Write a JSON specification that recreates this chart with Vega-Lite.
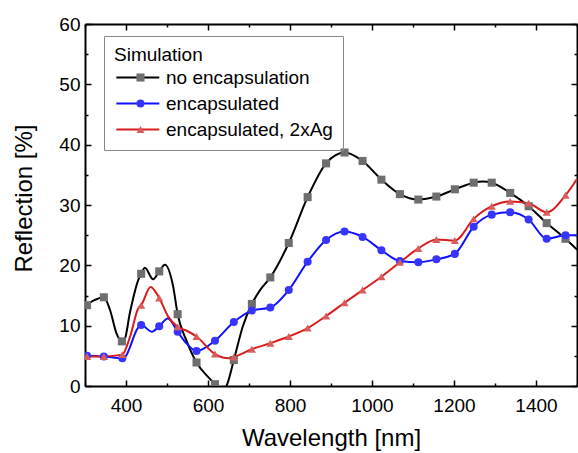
{
  "$schema": "https://vega.github.io/schema/vega-lite/v6.json",
  "width": 492,
  "height": 362,
  "autosize": {"type": "none"},
  "padding": {"left": 85, "top": 24, "right": 1, "bottom": 67},
  "config": {
    "font": "Liberation Sans",
    "view": {"stroke": null},
    "axis": {"grid": false, "domainColor": "black", "domainWidth": 2, "tickColor": "black", "tickWidth": 1.5, "labelColor": "black", "titleColor": "black", "labelFontSize": 19, "titleFontSize": 24, "titleFontWeight": "normal", "labelFlush": false, "labelOverlap": false},
    "legend": {"labelFontSize": 19, "titleFontSize": 19, "titleFontWeight": "normal", "labelColor": "black", "titleColor": "black", "labelLimit": 400}
  },
  "data": {
    "values": [
      {"s": "no encapsulation", "nm": 300, "r": 13.0, "m": 0},
      {"s": "no encapsulation", "nm": 305, "r": 13.4, "m": 1},
      {"s": "no encapsulation", "nm": 325, "r": 14.3, "m": 0},
      {"s": "no encapsulation", "nm": 346, "r": 14.7, "m": 1},
      {"s": "no encapsulation", "nm": 361, "r": 12.6, "m": 0},
      {"s": "no encapsulation", "nm": 377, "r": 8.7, "m": 0},
      {"s": "no encapsulation", "nm": 390, "r": 7.4, "m": 1},
      {"s": "no encapsulation", "nm": 396, "r": 7.6, "m": 0},
      {"s": "no encapsulation", "nm": 410, "r": 12.3, "m": 0},
      {"s": "no encapsulation", "nm": 430, "r": 17.6, "m": 0},
      {"s": "no encapsulation", "nm": 437, "r": 18.6, "m": 1},
      {"s": "no encapsulation", "nm": 446, "r": 19.6, "m": 0},
      {"s": "no encapsulation", "nm": 466, "r": 17.7, "m": 0},
      {"s": "no encapsulation", "nm": 481, "r": 19.0, "m": 1},
      {"s": "no encapsulation", "nm": 495, "r": 20.1, "m": 0},
      {"s": "no encapsulation", "nm": 515, "r": 16.5, "m": 0},
      {"s": "no encapsulation", "nm": 526, "r": 11.9, "m": 1},
      {"s": "no encapsulation", "nm": 547, "r": 7.6, "m": 0},
      {"s": "no encapsulation", "nm": 572, "r": 3.9, "m": 1},
      {"s": "no encapsulation", "nm": 600, "r": 1.5, "m": 0},
      {"s": "no encapsulation", "nm": 617, "r": 0.3, "m": 1},
      {"s": "no encapsulation", "nm": 630, "r": -1.0, "m": 0},
      {"s": "no encapsulation", "nm": 645, "r": 0.0, "m": 0},
      {"s": "no encapsulation", "nm": 663, "r": 4.3, "m": 1},
      {"s": "no encapsulation", "nm": 685, "r": 9.9, "m": 0},
      {"s": "no encapsulation", "nm": 707, "r": 13.6, "m": 1},
      {"s": "no encapsulation", "nm": 727, "r": 15.9, "m": 0},
      {"s": "no encapsulation", "nm": 752, "r": 18.0, "m": 1},
      {"s": "no encapsulation", "nm": 797, "r": 23.7, "m": 1},
      {"s": "no encapsulation", "nm": 843, "r": 31.3, "m": 1},
      {"s": "no encapsulation", "nm": 888, "r": 36.9, "m": 1},
      {"s": "no encapsulation", "nm": 933, "r": 38.7, "m": 1},
      {"s": "no encapsulation", "nm": 977, "r": 37.3, "m": 1},
      {"s": "no encapsulation", "nm": 1023, "r": 34.2, "m": 1},
      {"s": "no encapsulation", "nm": 1068, "r": 31.8, "m": 1},
      {"s": "no encapsulation", "nm": 1113, "r": 30.9, "m": 1},
      {"s": "no encapsulation", "nm": 1157, "r": 31.4, "m": 1},
      {"s": "no encapsulation", "nm": 1202, "r": 32.6, "m": 1},
      {"s": "no encapsulation", "nm": 1248, "r": 33.7, "m": 1},
      {"s": "no encapsulation", "nm": 1270, "r": 33.9, "m": 0},
      {"s": "no encapsulation", "nm": 1292, "r": 33.7, "m": 1},
      {"s": "no encapsulation", "nm": 1337, "r": 32.0, "m": 1},
      {"s": "no encapsulation", "nm": 1382, "r": 29.8, "m": 1},
      {"s": "no encapsulation", "nm": 1426, "r": 27.0, "m": 1},
      {"s": "no encapsulation", "nm": 1472, "r": 24.4, "m": 1},
      {"s": "no encapsulation", "nm": 1500, "r": 22.6, "m": 0},

      {"s": "encapsulated", "nm": 300, "r": 5.0, "m": 0},
      {"s": "encapsulated", "nm": 305, "r": 5.0, "m": 1},
      {"s": "encapsulated", "nm": 346, "r": 4.9, "m": 1},
      {"s": "encapsulated", "nm": 391, "r": 4.6, "m": 1},
      {"s": "encapsulated", "nm": 400, "r": 5.0, "m": 0},
      {"s": "encapsulated", "nm": 410, "r": 6.5, "m": 0},
      {"s": "encapsulated", "nm": 426, "r": 9.3, "m": 0},
      {"s": "encapsulated", "nm": 437, "r": 10.1, "m": 1},
      {"s": "encapsulated", "nm": 463, "r": 9.0, "m": 0},
      {"s": "encapsulated", "nm": 481, "r": 9.9, "m": 1},
      {"s": "encapsulated", "nm": 502, "r": 11.2, "m": 0},
      {"s": "encapsulated", "nm": 526, "r": 9.0, "m": 1},
      {"s": "encapsulated", "nm": 547, "r": 7.1, "m": 0},
      {"s": "encapsulated", "nm": 572, "r": 5.8, "m": 1},
      {"s": "encapsulated", "nm": 617, "r": 7.5, "m": 1},
      {"s": "encapsulated", "nm": 663, "r": 10.6, "m": 1},
      {"s": "encapsulated", "nm": 707, "r": 12.5, "m": 1},
      {"s": "encapsulated", "nm": 752, "r": 13.0, "m": 1},
      {"s": "encapsulated", "nm": 797, "r": 15.9, "m": 1},
      {"s": "encapsulated", "nm": 843, "r": 20.6, "m": 1},
      {"s": "encapsulated", "nm": 888, "r": 24.2, "m": 1},
      {"s": "encapsulated", "nm": 933, "r": 25.6, "m": 1},
      {"s": "encapsulated", "nm": 977, "r": 24.7, "m": 1},
      {"s": "encapsulated", "nm": 1023, "r": 22.5, "m": 1},
      {"s": "encapsulated", "nm": 1068, "r": 20.7, "m": 1},
      {"s": "encapsulated", "nm": 1113, "r": 20.5, "m": 1},
      {"s": "encapsulated", "nm": 1157, "r": 21.0, "m": 1},
      {"s": "encapsulated", "nm": 1202, "r": 21.9, "m": 1},
      {"s": "encapsulated", "nm": 1248, "r": 26.4, "m": 1},
      {"s": "encapsulated", "nm": 1292, "r": 28.4, "m": 1},
      {"s": "encapsulated", "nm": 1337, "r": 28.8, "m": 1},
      {"s": "encapsulated", "nm": 1382, "r": 27.6, "m": 1},
      {"s": "encapsulated", "nm": 1426, "r": 24.4, "m": 1},
      {"s": "encapsulated", "nm": 1472, "r": 25.0, "m": 1},
      {"s": "encapsulated", "nm": 1500, "r": 25.0, "m": 0},

      {"s": "encapsulated, 2xAg", "nm": 300, "r": 5.0, "m": 0},
      {"s": "encapsulated, 2xAg", "nm": 305, "r": 4.9, "m": 1},
      {"s": "encapsulated, 2xAg", "nm": 346, "r": 4.9, "m": 1},
      {"s": "encapsulated, 2xAg", "nm": 391, "r": 5.2, "m": 1},
      {"s": "encapsulated, 2xAg", "nm": 410, "r": 8.2, "m": 0},
      {"s": "encapsulated, 2xAg", "nm": 430, "r": 12.9, "m": 0},
      {"s": "encapsulated, 2xAg", "nm": 437, "r": 13.4, "m": 1},
      {"s": "encapsulated, 2xAg", "nm": 460, "r": 16.4, "m": 0},
      {"s": "encapsulated, 2xAg", "nm": 481, "r": 14.6, "m": 1},
      {"s": "encapsulated, 2xAg", "nm": 503, "r": 11.5, "m": 0},
      {"s": "encapsulated, 2xAg", "nm": 526, "r": 9.8, "m": 1},
      {"s": "encapsulated, 2xAg", "nm": 547, "r": 9.2, "m": 0},
      {"s": "encapsulated, 2xAg", "nm": 572, "r": 8.2, "m": 1},
      {"s": "encapsulated, 2xAg", "nm": 617, "r": 5.3, "m": 1},
      {"s": "encapsulated, 2xAg", "nm": 650, "r": 4.6, "m": 0},
      {"s": "encapsulated, 2xAg", "nm": 663, "r": 4.8, "m": 1},
      {"s": "encapsulated, 2xAg", "nm": 707, "r": 6.1, "m": 1},
      {"s": "encapsulated, 2xAg", "nm": 752, "r": 7.1, "m": 1},
      {"s": "encapsulated, 2xAg", "nm": 797, "r": 8.2, "m": 1},
      {"s": "encapsulated, 2xAg", "nm": 843, "r": 9.6, "m": 1},
      {"s": "encapsulated, 2xAg", "nm": 888, "r": 11.6, "m": 1},
      {"s": "encapsulated, 2xAg", "nm": 933, "r": 13.8, "m": 1},
      {"s": "encapsulated, 2xAg", "nm": 977, "r": 15.9, "m": 1},
      {"s": "encapsulated, 2xAg", "nm": 1023, "r": 18.1, "m": 1},
      {"s": "encapsulated, 2xAg", "nm": 1068, "r": 20.5, "m": 1},
      {"s": "encapsulated, 2xAg", "nm": 1113, "r": 22.8, "m": 1},
      {"s": "encapsulated, 2xAg", "nm": 1157, "r": 24.3, "m": 1},
      {"s": "encapsulated, 2xAg", "nm": 1202, "r": 24.1, "m": 1},
      {"s": "encapsulated, 2xAg", "nm": 1248, "r": 27.7, "m": 1},
      {"s": "encapsulated, 2xAg", "nm": 1292, "r": 29.8, "m": 1},
      {"s": "encapsulated, 2xAg", "nm": 1337, "r": 30.6, "m": 1},
      {"s": "encapsulated, 2xAg", "nm": 1382, "r": 30.3, "m": 1},
      {"s": "encapsulated, 2xAg", "nm": 1426, "r": 28.8, "m": 1},
      {"s": "encapsulated, 2xAg", "nm": 1472, "r": 31.6, "m": 1},
      {"s": "encapsulated, 2xAg", "nm": 1500, "r": 34.3, "m": 0}
    ]
  },
  "layer": [
    {
      "mark": {"type": "line", "interpolate": "monotone", "strokeWidth": 2, "clip": true},
      "encoding": {
        "x": {"field": "nm", "type": "quantitative", "scale": {"domain": [300, 1500], "nice": false, "zero": false},
          "axis": {"orient": "bottom", "format": "d", "values": [300, 400, 500, 600, 700, 800, 900, 1000, 1100, 1200, 1300, 1400, 1500], "tickSize": {"condition": {"test": "datum.value % 200 === 0", "value": -6}, "value": -3}, "labelExpr": "datum.value % 200 === 0 ? datum.label : ''", "labelPadding": 16, "title": "Wavelength [nm]", "titlePadding": 8}},
        "y": {"field": "r", "type": "quantitative", "scale": {"domain": [0, 60], "nice": false, "zero": false},
          "axis": {"orient": "left", "values": [0, 5, 10, 15, 20, 25, 30, 35, 40, 45, 50, 55, 60], "tickSize": {"condition": {"test": "datum.value % 10 === 0", "value": -6}, "value": -3}, "labelExpr": "datum.value % 10 === 0 ? datum.label : ''", "labelPadding": 11, "title": "Reflection [%]", "titlePadding": 22, "titleY": 174}},
        "stroke": {"field": "s", "type": "nominal",
          "scale": {"domain": ["no encapsulation", "encapsulated", "encapsulated, 2xAg"], "range": ["#000000", "#1010ff", "#d81c1c"]},
          "legend": {"title": "Simulation", "orient": "none", "legendX": 19, "legendY": 12, "direction": "vertical", "symbolType": "M-1,0H5", "symbolSize": 205, "symbolStrokeWidth": 2, "padding": 10, "strokeColor": "#888888", "rowPadding": 6, "titlePadding": 3, "labelOffset": 33}}
      }
    },
    {
      "transform": [{"filter": "datum.m == 1"}, {"calculate": "datum.s", "as": "series"}],
      "mark": {"type": "point", "filled": true, "opacity": 1, "size": 65, "clip": true},
      "encoding": {
        "x": {"field": "nm", "type": "quantitative", "axis": {"orient": "top", "values": [300, 400, 500, 600, 700, 800, 900, 1000, 1100, 1200, 1300, 1400, 1500], "tickSize": {"condition": {"test": "datum.value % 200 === 0", "value": -6}, "value": -3}, "labels": false, "title": null}},
        "y": {"field": "r", "type": "quantitative", "axis": {"orient": "right", "values": [0, 5, 10, 15, 20, 25, 30, 35, 40, 45, 50, 55, 60], "tickSize": {"condition": {"test": "datum.value % 10 === 0", "value": -6}, "value": -3}, "labels": false, "title": null}},
        "fill": {"field": "series", "type": "nominal",
          "scale": {"domain": ["no encapsulation", "encapsulated", "encapsulated, 2xAg", "-"], "range": ["#6e6e6e", "#3535ff", "#d95c5c", "#000000"]},
          "legend": {"title": "Simulation.", "titleColor": "transparent", "values": ["no encapsulation", "encapsulated", "encapsulated, 2xAg"], "orient": "none", "legendX": 19, "legendY": 12, "padding": 10, "symbolSize": 65, "symbolOffset": 17, "symbolStrokeWidth": 0, "symbolOpacity": 1, "labelColor": "transparent", "rowPadding": 6, "titlePadding": 3}},
        "shape": {"field": "series", "type": "nominal",
          "scale": {"domain": ["no encapsulation", "encapsulated", "encapsulated, 2xAg", "-"], "range": ["square", "circle", "triangle-up", "square"]},
          "legend": {"title": "Simulation.", "titleColor": "transparent", "values": ["no encapsulation", "encapsulated", "encapsulated, 2xAg"], "orient": "none", "legendX": 19, "legendY": 12, "padding": 10, "symbolSize": 65, "symbolOffset": 17, "symbolStrokeWidth": 0, "symbolOpacity": 1, "labelColor": "transparent", "rowPadding": 6, "titlePadding": 3}}
      }
    }
  ],
  "resolve": {"axis": {"x": "independent", "y": "independent"}}
}
